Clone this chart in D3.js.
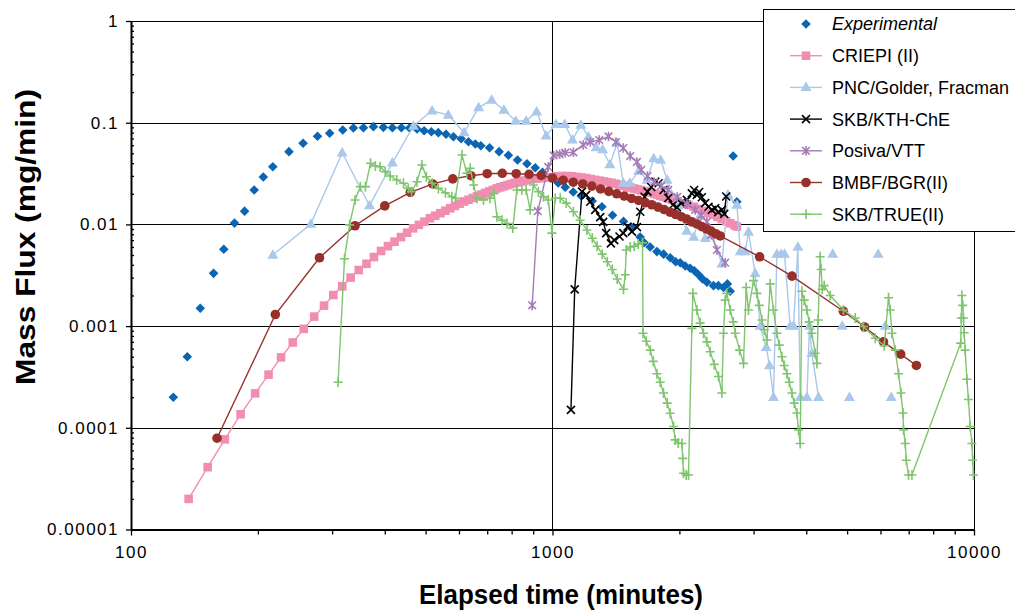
<!DOCTYPE html>
<html>
<head>
<meta charset="utf-8">
<script src="https://cdn.jsdelivr.net/npm/d3@7"></script>
<style>
  body { margin: 0; background: #fff; }
  svg { font-family: "Liberation Sans", Arial, sans-serif; }
</style>
</head>
<body>
<svg id="chart" width="1015" height="610"></svg>
<script>
// values: [time (minutes), mass flux (mg/min)]
const experimental = [[126,0.0002],[136,0.0005],[146,0.0015],[157,0.0033],[166,0.0057],[176,0.0103],[186,0.0135],[196,0.0218],[206,0.0292],[217,0.0369],[237,0.0519],[256,0.0627],[277,0.0735],[296,0.0787],[318,0.0847],[337,0.0887],[356,0.0892],[376,0.0914],[397,0.09],[417,0.0892],[438,0.0892],[458,0.0887],[477,0.0867],[496,0.0834],[516,0.0815],[536,0.0798],[559,0.0769],[582,0.0728],[607,0.0696],[632,0.065],[656,0.0618],[676,0.0594],[709,0.0568],[747,0.0519],[786,0.0478],[826,0.043],[870,0.0395],[910,0.0361],[947,0.0325],[991,0.0288],[1032,0.0255],[1072,0.0232],[1120,0.0208],[1170,0.019],[1242,0.017],[1310,0.0149],[1388,0.0123],[1474,0.0107],[1543,0.0092],[1614,0.0075],[1650,0.0066],[1705,0.006],[1769,0.0054],[1835,0.0051],[1902,0.0047],[1960,0.0043],[2009,0.0042],[2065,0.0039],[2121,0.0037],[2170,0.0035],[2221,0.0032],[2270,0.0029],[2325,0.0027],[2410,0.0025],[2475,0.0025],[2545,0.0024],[2600,0.0026],[2640,0.0022],[2683,0.047],[2738,0.0167]];

const criepi = [[137,2.0e-5],[152,4.1e-5],[167,7.7e-5],[182,1.36e-4],[197,2.18e-4],[212,3.33e-4],[227,4.93e-4],[242,6.9e-4],[257,9.4e-4],[272,1.24e-3],[287,1.59e-3],[302,2.02e-3],[317,2.46e-3],[332,3.0e-3],[347,3.56e-3],[362,4.1e-3],[377,4.77e-3],[392,5.48e-3],[407,6.11e-3],[422,6.76e-3],[437,7.5e-3],[452,8.29e-3],[467,9.15e-3],[482,9.89e-3],[497,0.01065],[512,0.0115],[527,0.01216],[542,0.01289],[557,0.01364],[572,0.0144],[587,0.01519],[602,0.016],[617,0.0168],[632,0.01748],[647,0.01819],[662,0.0189],[677,0.01963],[692,0.02035],[707,0.02107],[722,0.0218],[737,0.0226],[752,0.02315],[767,0.02374],[782,0.02434],[797,0.02494],[812,0.02553],[827,0.026],[842,0.02647],[857,0.02695],[872,0.02741],[887,0.0278],[902,0.02805],[917,0.02827],[932,0.02848],[947,0.0287],[962,0.0289],[977,0.02909],[992,0.02917],[1022,0.0297],[1052,0.0299],[1082,0.0299],[1112,0.0297],[1142,0.0293],[1172,0.0289],[1202,0.0285],[1232,0.02795],[1262,0.02744],[1292,0.02695],[1322,0.02648],[1352,0.02603],[1382,0.02559],[1412,0.02508],[1442,0.02452],[1472,0.02399],[1502,0.02349],[1532,0.02299],[1562,0.02253],[1592,0.02209],[1622,0.02167],[1652,0.02126],[1682,0.02087],[1712,0.0205],[1742,0.02011],[1772,0.01964],[1802,0.0192],[1832,0.01877],[1862,0.01836],[1892,0.01796],[1922,0.01758],[1952,0.01721],[1982,0.01684],[2042,0.01614],[2102,0.01549],[2162,0.0149],[2222,0.01421],[2282,0.01359],[2342,0.01301],[2402,0.01247],[2462,0.01187],[2522,0.01129],[2582,0.01075],[2642,0.01026],[2702,0.0098],[2738,0.00953]];

// null = gap in the line
const pnc = [[217,0.005],[267,0.0101],[317,0.0506],[368,0.0153],[417,0.0403],[468,0.0928],[518,0.131],[566,0.119],[617,0.0801],[668,0.141],[717,0.167],[767,0.133],[818,0.104],[866,0.104],[917,0.128],[966,0.0743],[1019,0.0967],[1069,0.0967],[1115,0.068],[1168,0.095],[1217,0.0728],[1270,0.057],[1315,0.0545],[1368,0.0388],[1424,0.0627],[1472,0.0255],[1526,0.0255],[1601,0.0335],[1678,0.0273],[1738,0.0445],[1806,0.043],[1871,0.0273],[1987,0.0152],[2082,0.0086],[2163,0.0075],[2235,0.0121],[2303,0.0073],[2393,0.0079],[2523,0.0041],[2607,0.0195],[2739,0.0155],[2789,0.0054],[2866,0.0054],[2917,0.0084],[3026,0.0033],[3110,0.001],[3214,0.00062],[3272,0.00041],[3344,0.0002],[3407,0.0051],[3488,0.0051],[3551,0.0051],[3664,0.001],[3731,0.001],[3821,0.006],[3870,0.0002],[4014,0.0002],[4071,0.001],[4125,0.00054],[4276,0.0002],null,[4622,0.0051],null,[4868,0.001],null,[5065,0.0002],null,[5925,0.0051],null,[6157,0.001],null,[6362,0.0002]];

const kth = [[1106,0.00015],[1129,0.0023],[1175,0.021],[1202,0.0195],[1229,0.0167],[1263,0.0139],[1298,0.0118],[1319,0.0106],[1341,0.0082],[1376,0.0065],[1401,0.007],[1442,0.0076],[1472,0.0082],[1507,0.0095],[1543,0.0085],[1586,0.0094],[1615,0.0133],[1654,0.0187],[1680,0.021],[1715,0.0233],[1753,0.0263],[1785,0.0254],[1834,0.0218],[1882,0.0182],[1931,0.0155],[1973,0.0147],[2020,0.0162],[2084,0.0174],[2141,0.0202],[2168,0.0218],[2200,0.0195],[2228,0.0208],[2261,0.0185],[2302,0.0162],[2345,0.0149],[2388,0.0139],[2432,0.0144],[2472,0.0132],[2523,0.0139],[2555,0.0127],[2583,0.0188]];

const posiva = [[895,0.0016],[923,0.0135],[977,0.0367],[1006,0.0476],[1040,0.049],[1072,0.0507],[1121,0.0512],[1182,0.0604],[1229,0.0646],[1291,0.0676],[1358,0.0732],[1414,0.0646],[1472,0.0564],[1529,0.047],[1586,0.0411],[1623,0.0343],[1680,0.0299],[1743,0.0261],[1811,0.0239],[1882,0.0218],[1976,0.0186],[2085,0.0159],[2181,0.0139],[2253,0.0124],[2325,0.0106],[2380,0.0079],[2455,0.0056],[2568,0.0042]];

const bmbf = [[160,7.9e-5],[220,0.0013],[280,0.0047],[340,0.0097],[400,0.0152],[460,0.0207],[520,0.025],[580,0.028],[640,0.0301],[700,0.0315],[760,0.0318],[820,0.0315],[880,0.0311],[940,0.0303],[1000,0.0286],[1060,0.0272],[1120,0.026],[1180,0.025],[1240,0.0238],[1300,0.0223],[1360,0.0211],[1420,0.02],[1480,0.019],[1540,0.018],[1600,0.0172],[1660,0.0163],[1720,0.0156],[1780,0.0148],[1840,0.014],[1900,0.0132],[1960,0.0125],[2020,0.0119],[2080,0.0113],[2140,0.0106],[2200,0.0101],[2260,0.0095],[2320,0.009],[2380,0.0086],[2440,0.0081],[2500,0.0077],[3100,0.0048],[3700,0.0031],[4900,0.0014],[5500,0.00098],[6100,0.0007],[6700,0.00053],[7300,0.00041]];

const trueII = [[310,0.00028],[321,0.0046],[330,0.0099],[340,0.0174],[350,0.0235],[360,0.0235],[370,0.0399],[380,0.0375],[390,0.0369],[401,0.033],[412,0.0299],[427,0.0273],[443,0.0254],[455,0.0226],[463,0.021],[477,0.0263],[490,0.0384],[502,0.0294],[518,0.0254],[536,0.0226],[557,0.0205],[577,0.0187],[588,0.0181],[610,0.0481],[626,0.0318],[638,0.0356],[650,0.0244],[662,0.0181],[686,0.0174],[711,0.0181],[727,0.0202],[738,0.0119],[759,0.011],[780,0.0102],[805,0.0092],[823,0.0218],[846,0.0218],[866,0.0218],[885,0.0139],[901,0.0244],[926,0.021],[952,0.0187],[977,0.0174],[997,0.0082],[1015,0.0181],[1043,0.0181],[1078,0.0162],[1121,0.0133],[1163,0.011],[1207,0.0088],[1243,0.0073],[1276,0.0061],[1312,0.0051],[1349,0.0043],[1386,0.0036],[1424,0.0029],[1474,0.0023],[1488,0.0032],[1496,0.0056],[1529,0.006],[1563,0.0061],[1597,0.0064],[1635,0.0066],[1640,0.00085],[1669,0.00071],[1706,0.00058],[1734,0.00045],[1769,0.00034],[1801,0.00028],[1834,0.00022],[1871,0.000175],[1902,0.000139],[1937,0.000103],[1955,0.000076],[1987,0.000071],[2028,0.00007],[2037,0.00005],[2046,0.0000357],[2076,0.0000344],[2102,0.0000344],[2141,0.00095],[2153,0.0021],[2201,0.00144],[2240,0.00107],[2281,0.00085],[2325,0.0007],[2367,0.00056],[2419,0.00042],[2477,0.00032],[2523,0.00022],[2545,0.00085],[2568,0.0018],[2592,0.0021],[2640,0.00144],[2684,0.0011],[2713,0.00085],[2778,0.00058],[2839,0.00043],[2881,0.0024],[2917,0.00144],[2999,0.0028],[3054,0.0021],[3094,0.0016],[3139,0.00115],[3179,0.00092],[3226,0.00073],[3285,0.0026],[3344,0.00144],[3407,0.00085],[3451,0.00065],[3502,0.0005],[3546,0.00041],[3599,0.00034],[3645,0.00028],[3698,0.00022],[3745,0.000175],[3800,0.00014],[3834,0.000095],[3869,0.00007],[3905,0.0022],[3954,0.0018],[4013,0.00144],[4064,0.0011],[4125,0.00085],[4200,0.00054],[4239,0.00043],[4269,0.00115],[4316,0.0048],[4340,0.0036],[4364,0.0023],[4412,0.0025],[4558,0.002],[4901,0.00144],[5225,0.0012],[5468,0.00099],[5832,0.00076],[6124,0.00064],[6269,0.0019],[6327,0.00144],[6386,0.00085],[6505,0.00058],[6623,0.00034],[6710,0.00022],[6783,0.00014],[6806,0.000095],[6869,0.00007],[6907,0.000048],[6994,0.0000344],[7125,0.0000344],[9300,0.00068],[9330,0.0012],[9361,0.002],[9402,0.0016],[9441,0.0012],[9478,0.00086],[9529,0.00058],[9619,0.0003],[9702,0.00019],[9794,0.000103],[9886,0.00007],[9929,0.000048],[9972,0.0000344]];

const seriesNames = ["Experimental", "CRIEPI (II)", "PNC/Golder, Fracman", "SKB/KTH-ChE", "Posiva/VTT", "BMBF/BGR(II)", "SKB/TRUE(II)"];
const seriesColors = ["#0a66b2", "#f28db2", "#a9c8ea", "#000000", "#a67bb6", "#97302a", "#7fc56e"];

const yTicks = [1e-5, 1e-4, 1e-3, 1e-2, 1e-1, 1];
const yLabels = ["0.00001", "0.0001", "0.001", "0.01", "0.1", "1"];
const xTicks = [100, 1000, 10000];
const xLabels = ["100", "1000", "10000"];

const svg = d3.select("#chart");
const W = 1015, H = 610;
const plot = {left: 131, right: 974, top: 21, bottom: 529.5};

svg.append("rect").attr("width", W).attr("height", H).attr("fill", "#fff");

const x = d3.scaleLog().domain([100, 10000]).range([plot.left, plot.right]);
const y = d3.scaleLog().domain([1e-5, 1]).range([plot.bottom, plot.top]);

// minor tick values (2..9 in every decade)
const minorY = [], minorX = [];
yTicks.slice(0, -1).forEach(d => { for (let k = 2; k < 10; k++) minorY.push(d * k); });
xTicks.slice(0, -1).forEach(d => { for (let k = 2; k < 10; k++) minorX.push(d * k); });

// gridlines
const grid = svg.append("g").attr("stroke", "#000").attr("stroke-width", 1);
grid.selectAll(".hg").data(yTicks.slice(1)).enter().append("line")
  .attr("x1", plot.left).attr("x2", plot.right)
  .attr("y1", d => Math.round(y(d)) + 0.5).attr("y2", d => Math.round(y(d)) + 0.5);
grid.selectAll(".vg").data(xTicks.slice(1)).enter().append("line")
  .attr("y1", plot.top).attr("y2", plot.bottom)
  .attr("x1", d => Math.round(x(d)) + 0.5).attr("x2", d => Math.round(x(d)) + 0.5);

// axes
const yAxis = svg.append("g")
  .attr("transform", `translate(${plot.left},0)`)
  .call(d3.axisLeft(y).tickValues(yTicks).tickSize(5).tickSizeOuter(0).tickPadding(7)
    .tickFormat((d, i) => yLabels[i]));
svg.append("g")
  .attr("transform", `translate(${plot.left},0)`)
  .call(d3.axisLeft(y).tickValues(minorY).tickSize(-3).tickFormat(""))
  .call(g => g.select(".domain").remove());

const xAxis = svg.append("g")
  .attr("transform", `translate(0,${plot.bottom})`)
  .call(d3.axisBottom(x).tickValues(xTicks).tickSize(6).tickSizeOuter(0).tickPadding(10)
    .tickFormat((d, i) => xLabels[i]));
svg.append("g")
  .attr("transform", `translate(0,${plot.bottom})`)
  .call(d3.axisBottom(x).tickValues(minorX).tickSize(5).tickFormat(""))
  .call(g => g.select(".domain").remove());

svg.selectAll(".domain").attr("stroke-width", 2);
svg.selectAll(".tick line").attr("stroke-width", 1.3);
[yAxis, xAxis].forEach(a => a.selectAll("text")
  .attr("font-family", "'Liberation Sans', Arial, sans-serif")
  .attr("font-size", 17).attr("letter-spacing", 1.5).attr("fill", "#000"));

// series
const symbolPaths = {
  diamond: "M0,-4.8L4.8,0L0,4.8L-4.8,0Z",
  square: "M-4.3,-4.3H4.3V4.3H-4.3Z",
  triangle: "M0,-5.8L5.5,3.7H-5.5Z",
  cross: "M-4,-4L4,4M-4,4L4,-4",
  star: "M-3.8,-3.8L3.8,3.8M-3.8,3.8L3.8,-3.8M0,-4.8V4.8",
  circle: "M4.8,0A4.8,4.8 0 1,1 -4.8,0A4.8,4.8 0 1,1 4.8,0Z",
  plus: "M-4.5,0H4.5M0,-5V5"
};
const filled = {diamond: true, square: true, triangle: true, circle: true};

const series = [
  {data: experimental, sym: "diamond", line: false},
  {data: criepi, sym: "square", line: true},
  {data: pnc, sym: "triangle", line: true},
  {data: kth, sym: "cross", line: true},
  {data: posiva, sym: "star", line: true},
  {data: bmbf, sym: "circle", line: true},
  {data: trueII, sym: "plus", line: true}
].map((s, i) => Object.assign(s, {name: seriesNames[i], color: seriesColors[i]}));

const line = d3.line().defined(d => d !== null).x(d => x(d[0])).y(d => y(d[1]));

function drawMarker(sel, s) {
  sel.attr("d", symbolPaths[s.sym])
    .attr("fill", filled[s.sym] ? s.color : "none")
    .attr("stroke", s.color)
    .attr("stroke-width", filled[s.sym] ? 0 : 1.6);
}

series.forEach(s => {
  const g = svg.append("g");
  if (s.line) {
    g.append("path").datum(s.data).attr("d", line)
      .attr("fill", "none").attr("stroke", s.color).attr("stroke-width", 1.4);
  }
  g.selectAll("path.m").data(s.data.filter(d => d !== null)).enter().append("path")
    .attr("class", "m")
    .attr("transform", d => `translate(${x(d[0])},${y(d[1])})`)
    .call(sel => drawMarker(sel, s));
});

// legend
const lg = svg.append("g");
lg.append("rect").attr("x", 763.5).attr("y", 9.5).attr("width", 260).attr("height", 222)
  .attr("fill", "#fff").attr("stroke", "#000").attr("stroke-width", 1);
series.forEach((s, i) => {
  const cy = 24 + i * 31.7;
  const row = lg.append("g").attr("transform", `translate(0,${cy})`);
  if (s.line) row.append("line").attr("x1", 790).attr("x2", 822)
    .attr("stroke", s.color).attr("stroke-width", 1.4);
  row.append("path").attr("transform", "translate(806,0)").call(sel => drawMarker(sel, s));
  row.append("text").attr("x", 832).attr("y", 0).attr("dy", "0.36em")
    .attr("font-size", 18).attr("fill", "#000")
    .attr("font-style", i === 0 ? "italic" : "normal")
    .text(s.name);
});

// axis titles
svg.append("text")
  .attr("x", 561).attr("y", 604)
  .attr("text-anchor", "middle").attr("font-weight", "bold").attr("font-size", 27)
  .attr("textLength", 284).attr("lengthAdjust", "spacingAndGlyphs")
  .text("Elapsed time (minutes)");
svg.append("text")
  .attr("transform", "translate(35,237) rotate(-90)")
  .attr("text-anchor", "middle").attr("font-weight", "bold").attr("font-size", 28)
  .attr("textLength", 296).attr("lengthAdjust", "spacingAndGlyphs")
  .text("Mass Flux (mg/min)");
</script>
</body>
</html>
